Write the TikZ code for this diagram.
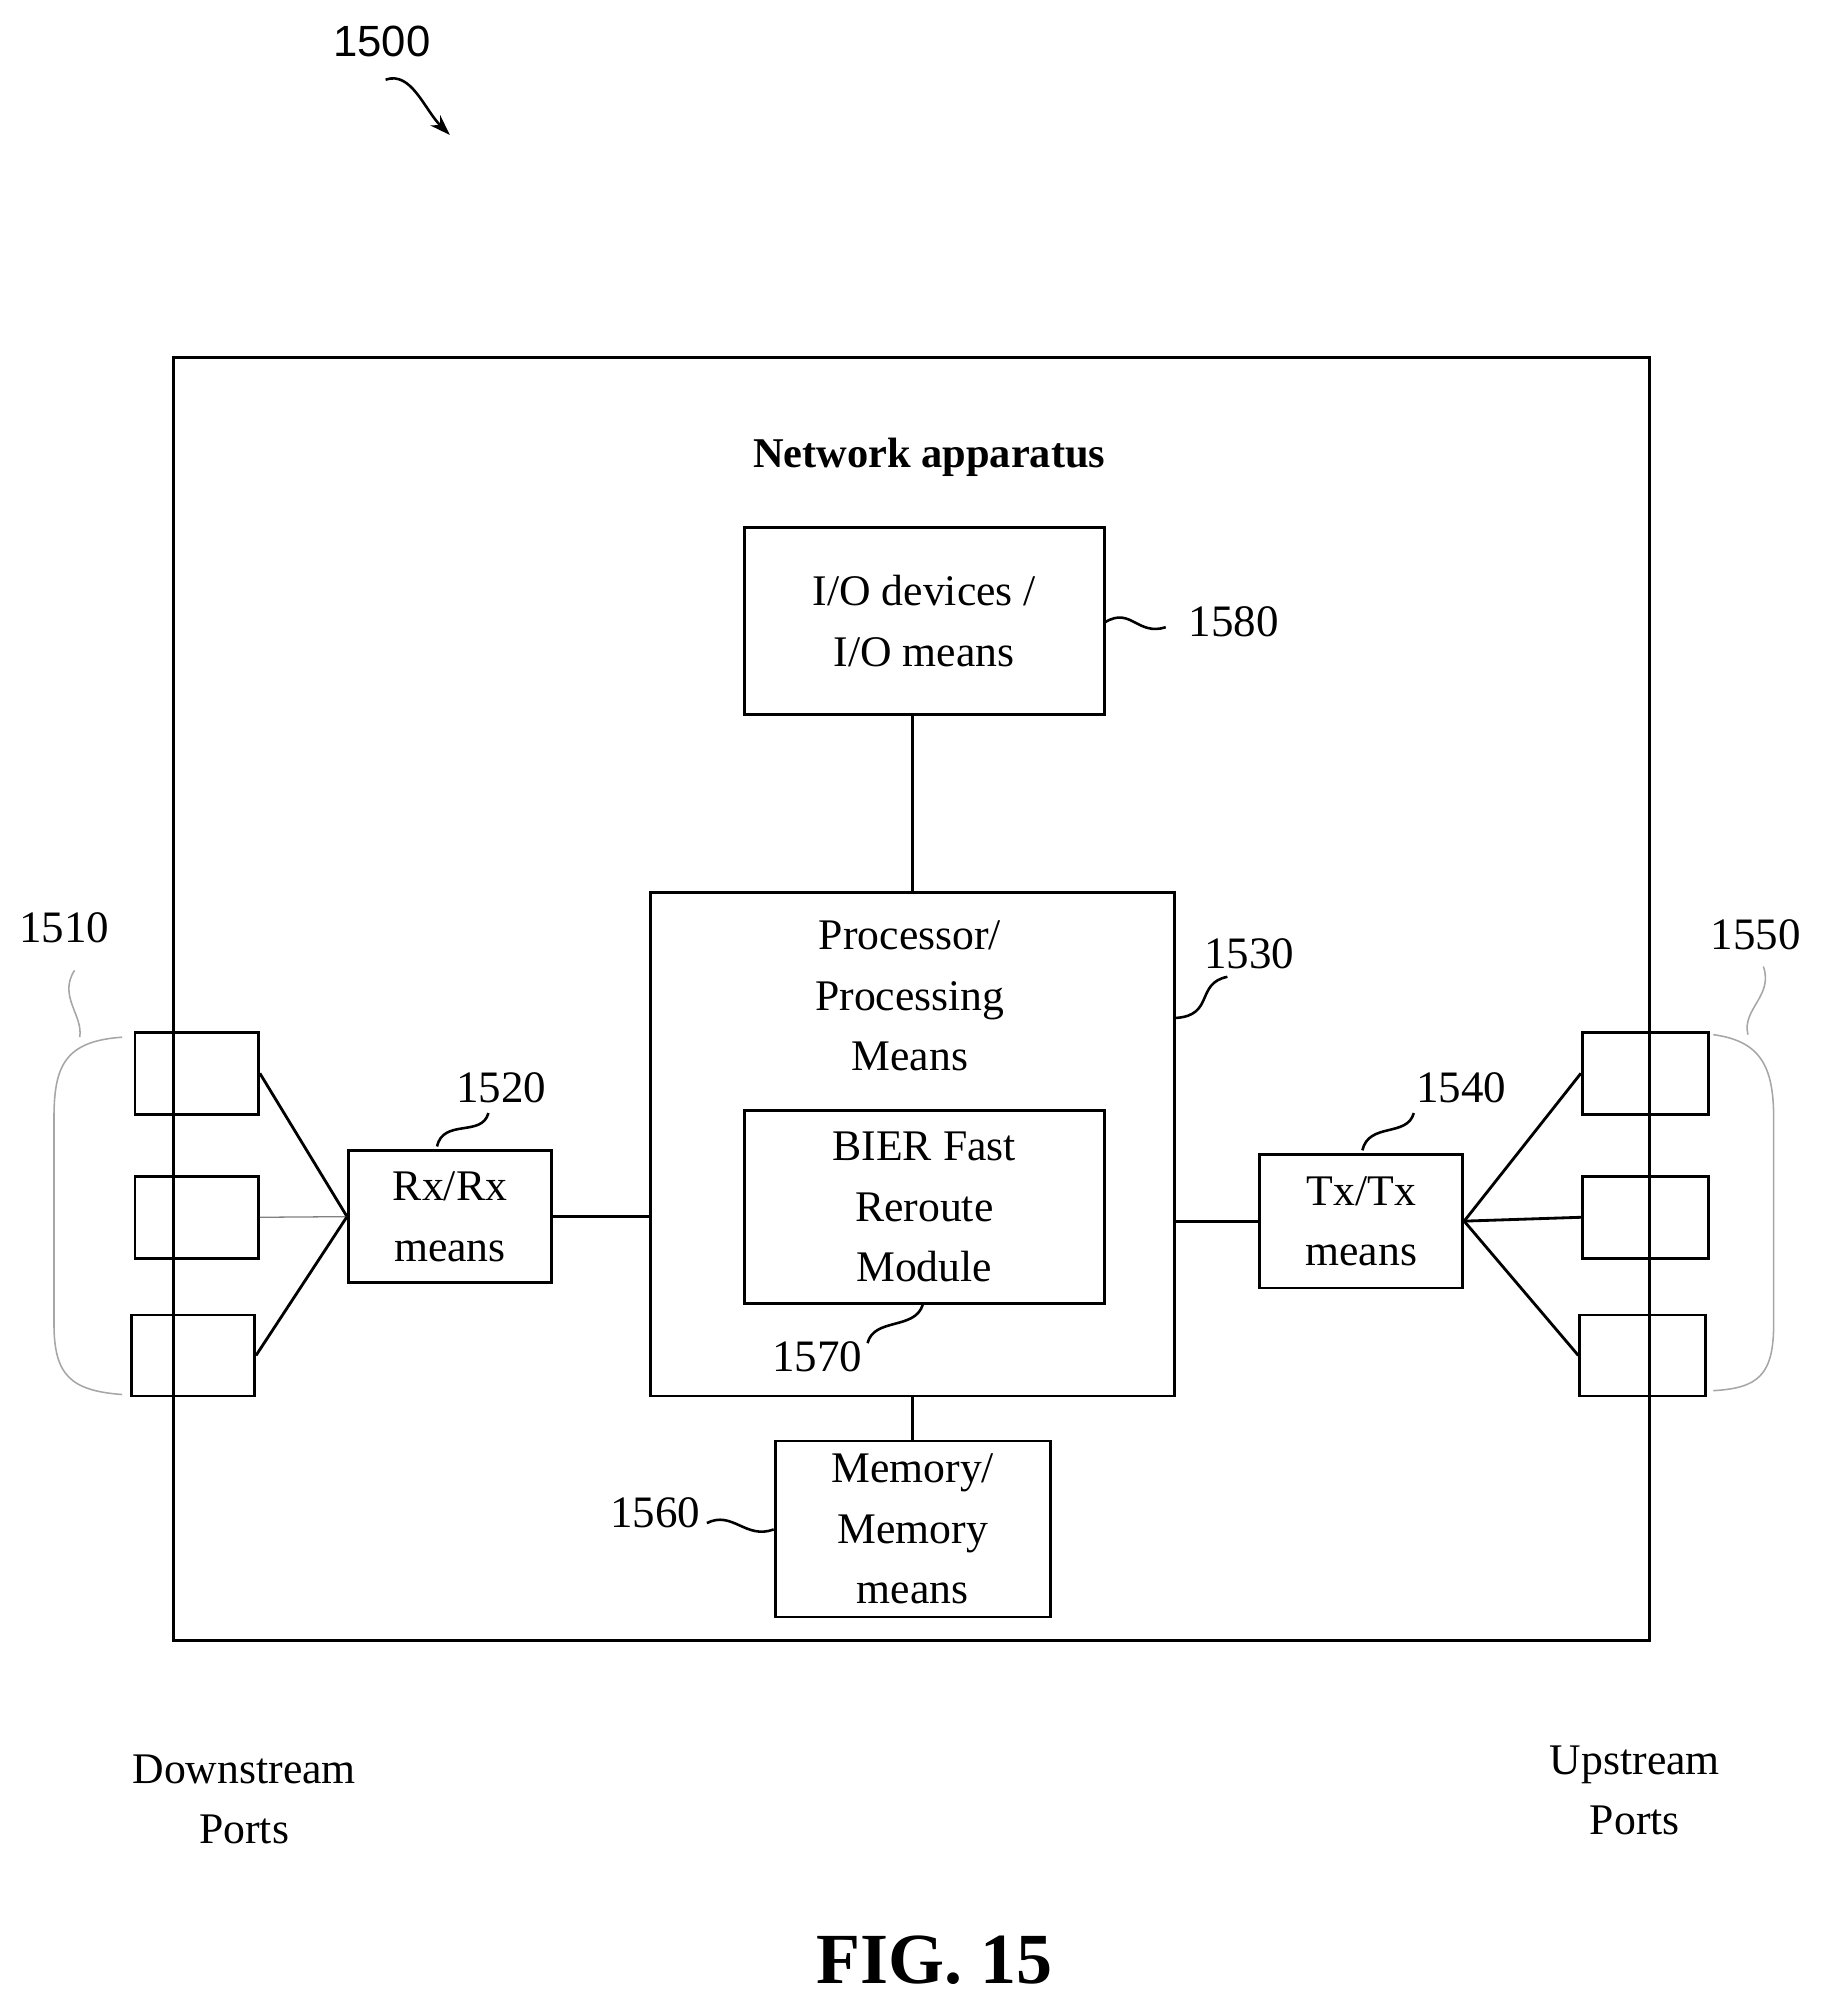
\documentclass[tikz,border=0pt]{standalone}
\usetikzlibrary{arrows.meta}
\usepackage{fontspec}
\setmainfont{Liberation Serif}
\newfontfamily\arialf{Liberation Sans}
\begin{document}
\begin{tikzpicture}[x=1pt,y=-1pt,
  box/.style={draw,line width=2.2pt,inner sep=0pt,anchor=north west},
  txt/.style={font=\fontsize{34}{47}\selectfont,align=center},
  lbl/.style={font=\fontsize{35}{40}\selectfont},
  sq/.style={line width=2pt},
  ln/.style={line width=2.2pt}]
\useasboundingbox (0,0) rectangle (1418,1567);
% outer
\node[box,minimum width=1148pt,minimum height=998pt] (outer) at (134,277) {};
\node[txt,font=\bfseries\fontsize{33}{47}\selectfont] (title) at (723,356) {Network apparatus};
% boxes
\node[box,minimum width=280pt,minimum height=146pt] (io) at (578,409) {};
\node[txt] (iot) at (io.center) {I/O devices /\\I/O means};
\node[box,minimum width=408pt,minimum height=392pt] (proc) at (505,693) {};
\node[txt] (proct) at (708,775) {Processor/\\Processing\\Means};
\node[box,minimum width=280pt,minimum height=150pt] (bier) at (578,863) {};
\node[txt] (biert) at (bier.center) {BIER Fast\\Reroute\\Module};
\node[box,minimum width=214pt,minimum height=137pt] (mem) at (602,1120) {};
\node[txt] (memt) at (mem.center) {Memory/\\Memory\\means};
\node[box,minimum width=158pt,minimum height=103pt] (rx) at (270,894) {};
\node[txt] (rxt) at (rx.center) {Rx/Rx\\means};
\node[box,minimum width=158pt,minimum height=104pt] (tx) at (979,897) {};
\node[txt] (txt1) at (tx.center) {Tx/Tx\\means};
% ports
\node[box,minimum width=96pt,minimum height=64pt] (l1) at (104,802) {};
\node[box,minimum width=96pt,minimum height=64pt] (l2) at (104,914) {};
\node[box,minimum width=96pt,minimum height=63pt] (l3) at (101,1022) {};
\node[box,minimum width=98pt,minimum height=64pt] (r1) at (1230,802) {};
\node[box,minimum width=98pt,minimum height=64pt] (r2) at (1230,914) {};
\node[box,minimum width=98pt,minimum height=63pt] (r3) at (1228,1022) {};
% connectors
\draw[ln] (io.south -| 710,0) -- (proc.north -| 710,0);
\draw[ln] (proc.south -| 710,0) -- (mem.north -| 710,0);
\draw[ln] (rx.east) -- (rx.east -| proc.west);
\draw[ln] (tx.west) -- (tx.west -| proc.east);
\draw[ln] (l1.east) -- (rx.west);
\draw[line width=1pt,gray] (l2.east) -- (rx.west);
\draw[ln] (l3.east) -- (rx.west);
\draw[ln] (r1.west) -- (tx.east);
\draw[ln] (r2.west) -- (tx.east);
\draw[ln] (r3.west) -- (tx.east);
% braces
\draw[line width=1.2pt,gray!70] (95,807) .. controls (50,810) and (42,830) .. (42,870) -- (42,1030) .. controls (42,1070) and (55,1082) .. (95,1085);
\draw[line width=1.2pt,gray!70] (1333,805) .. controls (1370,810) and (1380,830) .. (1380,870) -- (1380,1030) .. controls (1380,1070) and (1368,1080) .. (1333,1082);
% labels
\node[lbl] (n1580) at (960,484) {1580};
\node[lbl] (n1530) at (972,742) {1530};
\node[lbl] (n1570) at (636,1056) {1570};
\node[lbl] (n1560) at (510,1177) {1560};
\node[lbl] (n1520) at (390,846) {1520};
\node[lbl] (n1540) at (1137,846) {1540};
\node[lbl] (n1510) at (50,722) {1510};
\node[lbl] (n1550) at (1366,727) {1550};
\draw[sq] (860,484) .. controls (880,472) and (885,495) .. (907,488);
\draw[sq] (915,792) .. controls (945,790) and (930,765) .. (955,760);
\draw[sq] (718,1015) .. controls (712,1035) and (680,1025) .. (675,1045);
\draw[sq] (550,1185) .. controls (570,1175) and (580,1198) .. (602,1190);
\draw[sq] (340,892) .. controls (345,870) and (375,885) .. (380,866);
\draw[sq] (1060,895) .. controls (1065,873) and (1095,885) .. (1100,866);
\draw[line width=1.2pt,gray!70] (58,755) .. controls (45,775) and (65,790) .. (62,807);
\draw[line width=1.2pt,gray!70] (1372,752) .. controls (1380,775) and (1355,785) .. (1360,805);
\node[txt] (down) at (190,1400) {Downstream\\Ports};
\node[txt] (up) at (1272,1393) {Upstream\\Ports};
\node[font=\bfseries\fontsize{56}{60}\selectfont] (fig) at (727,1525) {FIG. 15};
\node[font=\arialf\fontsize{34}{40}\selectfont] (n1500) at (297,32) {1500};
\draw[sq,-{Stealth[length=16pt,width=11pt]}] (300,62) .. controls (320,55) and (330,85) .. (350,105);
\end{tikzpicture}
\end{document}
